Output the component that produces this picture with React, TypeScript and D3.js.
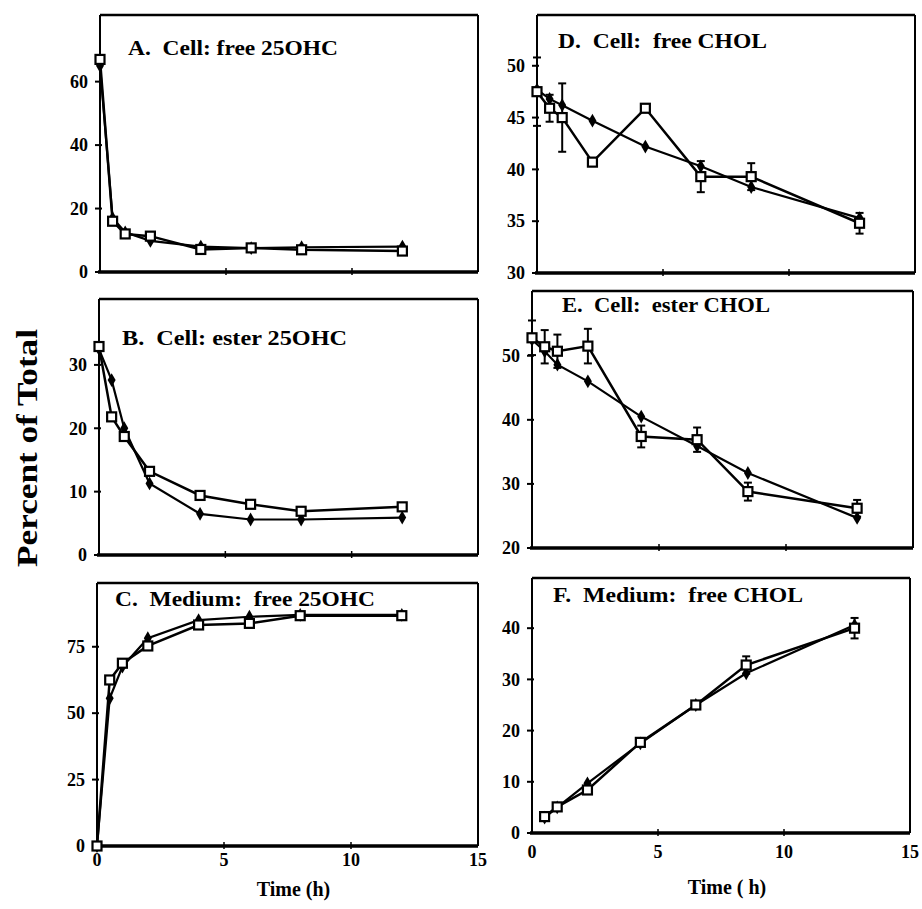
import React, { useEffect, useRef } from "react";
import * as d3 from "d3";

// sampling times (h)
const hoursOHC = [0, 0.5, 1, 2, 4, 6, 8, 12];
const hoursCHOL = [0, 0.5, 1, 2.2, 4.3, 6.5, 8.5, 12.8];
const hoursMediumCHOL = [0.5, 1, 2.2, 4.3, 6.5, 8.5, 12.8];

// A. Cell: free 25OHC
const cellFreeOHCOpen = [67, 16, 12, 11.3, 7.1, 7.6, 7, 6.6];
const cellFreeOHCFilled = [65, 17, 12.5, 9.8, 8, 7.5, 7.8, 8];
// B. Cell: ester 25OHC
const cellEsterOHCOpen = [32.9, 21.8, 18.7, 13.2, 9.4, 8.0, 6.9, 7.6];
const cellEsterOHCFilled = [32.5, 27.6, 20, 11.3, 6.5, 5.6, 5.6, 5.9];
// C. Medium: free 25OHC
const mediumFreeOHCOpen = [0, 62.5, 68.8, 75.3, 83.2, 83.8, 86.7, 86.7];
const mediumFreeOHCFilled = [0, 55.6, 67.5, 78.2, 85, 86.3, 87, 87];
// D. Cell: free CHOL
const cellFreeCHOLOpen = [47.5, 45.9, 45.0, 40.7, 45.9, 39.3, 39.3, 34.8];
const cellFreeCHOLFilled = [47.7, 46.8, 46.2, 44.7, 42.2, 40.3, 38.3, 35.3];
const cellFreeCHOLErr = [3.3, 1.3, 3.3, 0, 0, 1.5, 1.3, 1.0];
// E. Cell: ester CHOL
const cellEsterCHOLOpen = [52.8, 51.4, 50.7, 51.5, 37.4, 36.9, 28.8, 26.2];
const cellEsterCHOLFilled = [52.5, 50.7, 48.6, 46.0, 40.5, 35.9, 31.7, 24.7];
const cellEsterCHOLErr = [2.7, 2.6, 2.6, 2.7, 1.7, 1.9, 1.4, 1.3];
// F. Medium: free CHOL
const mediumFreeCHOLOpen = [3.2, 5.1, 8.4, 17.7, 25, 32.8, 40];
const mediumFreeCHOLFilled = [3, 5, 9.7, 17.5, 25, 31.2, 40.6];
const mediumFreeCHOLErr = [0, 0, 0, 0, 0, 1.7, 2.0];

const xTicks = [0, 5, 10, 15];

const panels = [
  { title: "A.  Cell: free 25OHC", tw: 210, tx: 28, ty: 40, t: hoursOHC, open: cellFreeOHCOpen, filled: cellFreeOHCFilled, err: null,
    yDomain: [0, 81], yTicks: [0, 20, 40, 60], box: [100, 15, 478, 272], xLabels: false },
  { title: "B.  Cell: ester 25OHC", tw: 225, tx: 23, ty: 46, t: hoursOHC, open: cellEsterOHCOpen, filled: cellEsterOHCFilled, err: null,
    yDomain: [0, 40.4], yTicks: [0, 10, 20, 30], box: [99, 299, 478, 555], xLabels: false },
  { title: "C.  Medium:  free 25OHC", tw: 260, tx: 18, ty: 23, t: hoursOHC, open: mediumFreeOHCOpen, filled: mediumFreeOHCFilled, err: null,
    yDomain: [0, 99], yTicks: [0, 25, 50, 75], box: [97, 583, 478, 846], xLabels: true, xLabelY: 866, xTitle: "Time (h)", xTitleY: 896 },
  { title: "D.  Cell:  free CHOL", tw: 209, tx: 21, ty: 33, t: hoursCHOL, open: cellFreeCHOLOpen, filled: cellFreeCHOLFilled, err: cellFreeCHOLErr,
    yDomain: [30, 54.9], yTicks: [30, 35, 40, 45, 50], box: [537, 15, 915, 273], xLabels: false },
  { title: "E.  Cell:  ester CHOL", tw: 208, tx: 30, ty: 21, t: hoursCHOL, open: cellEsterCHOLOpen, filled: cellEsterCHOLFilled, err: cellEsterCHOLErr,
    yDomain: [20, 60.1], yTicks: [20, 30, 40, 50], box: [532, 291, 913, 548], xLabels: false },
  { title: "F.  Medium:  free CHOL", tw: 250, tx: 21, ty: 24, t: hoursMediumCHOL, open: mediumFreeCHOLOpen, filled: mediumFreeCHOLFilled, err: mediumFreeCHOLErr,
    yDomain: [0, 49.8], yTicks: [0, 10, 20, 30, 40], box: [532, 578, 910, 833], xLabels: true, xLabelY: 858, xTitle: "Time ( h)", xTitleY: 894 },
];

const FONT = "'Liberation Serif', 'Times New Roman', serif";

const App = () => {
  const svgRef = useRef<SVGSVGElement>(null);

  useEffect(() => {
    const svg = d3.select(svgRef.current);
    svg.selectAll("*").remove();

    svg.append("rect").attr("width", 922).attr("height", 909).attr("fill", "white");

    panels.forEach(p => {
      const [x0, y0, x1, y1] = p.box;
      const x = d3.scaleLinear().domain([0, 15]).range([x0, x1]);
      const y = d3.scaleLinear().domain(p.yDomain).range([y1, y0]);
      const g = svg.append("g");

      // frame
      g.append("line").attr("x1", x0).attr("x2", x1).attr("y1", y0).attr("y2", y0)
        .attr("stroke", "black").attr("stroke-width", 2.5);
      g.append("line").attr("x1", x1).attr("x2", x1).attr("y1", y0).attr("y2", y1)
        .attr("stroke", "black").attr("stroke-width", 2);
      g.append("line").attr("x1", x0).attr("x2", x0).attr("y1", y0).attr("y2", y1)
        .attr("stroke", "black").attr("stroke-width", 2);
      g.append("line").attr("x1", x0 - 2).attr("x2", x1).attr("y1", y1).attr("y2", y1)
        .attr("stroke", "black").attr("stroke-width", 3.5);

      // y ticks + labels
      p.yTicks.forEach(v => {
        g.append("line").attr("x1", x0 - 5).attr("x2", x0 + 2).attr("y1", y(v)).attr("y2", y(v))
          .attr("stroke", "black").attr("stroke-width", 2);
        g.append("text").attr("x", x0 - 12).attr("y", y(v)).attr("dy", "0.35em")
          .attr("text-anchor", "end").attr("font-family", FONT).attr("font-weight", "bold")
          .attr("font-size", 18).text(v);
      });

      // x ticks
      xTicks.slice(1, 3).forEach(v => {
        g.append("line").attr("x1", x(v)).attr("x2", x(v)).attr("y1", y1 - 4).attr("y2", y1 + 3)
          .attr("stroke", "black").attr("stroke-width", 1.5);
      });
      if (p.xLabels) {
        xTicks.forEach(v => {
          g.append("text").attr("x", x(v)).attr("y", p.xLabelY).attr("text-anchor", "middle")
            .attr("font-family", FONT).attr("font-weight", "bold").attr("font-size", 18).text(v);
        });
        g.append("text").attr("x", (x0 + x1) / 2 + 6).attr("y", p.xTitleY).attr("text-anchor", "middle")
          .attr("font-family", FONT).attr("font-weight", "bold").attr("font-size", 20)
          .style("white-space", "pre").text(p.xTitle);
      }

      // panel title
      g.append("text").attr("x", x0 + p.tx).attr("y", y0 + p.ty)
        .attr("font-family", FONT).attr("font-weight", "bold").attr("font-size", 21)
        .attr("textLength", p.tw).attr("lengthAdjust", "spacingAndGlyphs")
        .style("white-space", "pre").text(p.title);

      const line = d3.line<number>().x((d, i) => x(p.t[i])).y(d => y(d));

      // filled series
      g.append("path").datum(p.filled).attr("d", line).attr("fill", "none")
        .attr("stroke", "black").attr("stroke-width", 2.2);
      g.selectAll(".filled").data(p.filled).enter().append("path")
        .attr("transform", (d, i) => `translate(${x(p.t[i])},${y(d)})`)
        .attr("d", d3.symbol(d3.symbolDiamond, 55)).attr("fill", "black");

      // error bars on open series
      if (p.err) {
        p.err.forEach((e, i) => {
          if (!e) return;
          const cx = x(p.t[i]);
          const top = y(p.open[i] + e), bot = y(p.open[i] - e);
          g.append("line").attr("x1", cx).attr("x2", cx).attr("y1", top).attr("y2", bot)
            .attr("stroke", "black").attr("stroke-width", 2);
          [top, bot].forEach(yy => g.append("line").attr("x1", cx - 4).attr("x2", cx + 4)
            .attr("y1", yy).attr("y2", yy).attr("stroke", "black").attr("stroke-width", 2));
        });
      }

      // open-square series
      g.append("path").datum(p.open).attr("d", line).attr("fill", "none")
        .attr("stroke", "black").attr("stroke-width", 2.5);
      g.selectAll(".open").data(p.open).enter().append("rect")
        .attr("x", (d, i) => x(p.t[i]) - 4.5).attr("y", d => y(d) - 4.5)
        .attr("width", 9).attr("height", 9)
        .attr("fill", "white").attr("stroke", "black").attr("stroke-width", 2.2);
    });

    // shared y title
    svg.append("text").attr("transform", "translate(37,448) rotate(-90)")
      .attr("text-anchor", "middle").attr("font-family", FONT).attr("font-weight", "bold")
      .attr("font-size", 30).attr("textLength", 238).attr("lengthAdjust", "spacingAndGlyphs")
      .text("Percent of Total");
  }, []);

  return (
    <svg ref={svgRef} width={922} height={909}
      style={{ position: "absolute", left: 0, top: 0, background: "white" }} />
  );
};

export default App;
